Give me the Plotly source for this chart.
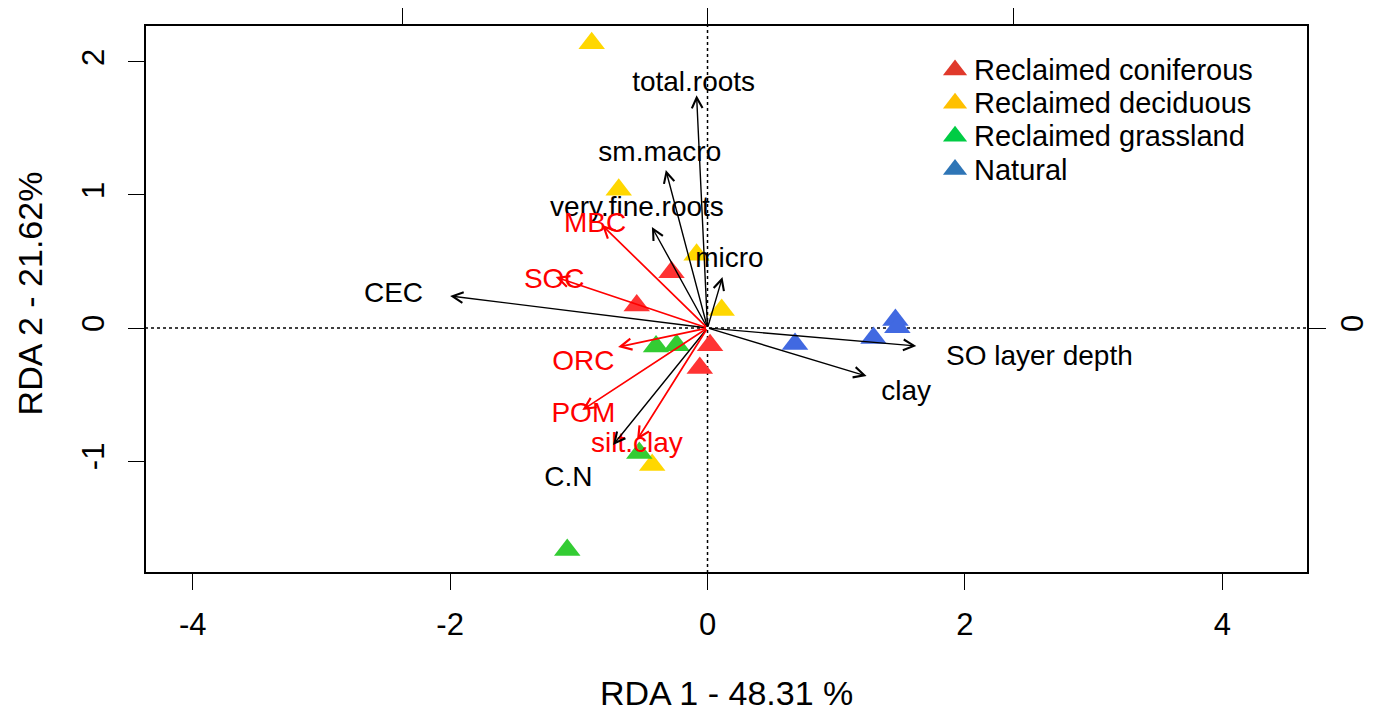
import plotly.graph_objects as go

# ---------------- data ----------------
groups = ["Reclaimed coniferous", "Reclaimed deciduous", "Reclaimed grassland", "Natural"]
point_colors = ["#FF3333", "#FFD700", "#33CC33", "#4169E1"]
legend_colors = ["#E0392B", "#FFC000", "#00CC44", "#2E75B6"]

conif_x = [-0.28, -0.55, 0.02, -0.06]
conif_y = [0.42, 0.17, -0.13, -0.30]
decid_x = [-0.90, -0.69, -0.085, 0.11, -0.43]
decid_y = [2.14, 1.04, 0.55, 0.135, -1.03]
grass_x = [-0.40, -0.24, -0.53, -1.09]
grass_y = [-0.14, -0.13, -0.94, -1.67]
nat_x = [0.68, 1.29, 1.46, 1.475]
nat_y = [-0.12, -0.075, 0.06, 0.005]

# black vectors (explanatory variables)
env_names = ["total.roots", "sm.macro", "very.fine.roots", "micro", "CEC",
             "SO layer depth", "clay", "C.N"]
env_x = [-0.085, -0.324, -0.432, 0.116, -2.0, 1.622, 1.236, -0.734]
env_y = [1.75, 1.188, 0.759, 0.383, 0.241, -0.135, -0.361, -0.88]
env_lab_x = [-0.108, -0.371, -0.548, 0.17, -2.44, 2.579, 1.544, -1.081]
env_lab_y = [1.837, 1.311, 0.897, 0.514, 0.251, -0.223, -0.486, -1.138]

# red vectors (fitted soil variables)
soil_names = ["MBC", "SOC", "ORC", "POM", "silt.clay"]
soil_x = [-0.82, -1.18, -0.695, -0.973, -0.548]
soil_y = [0.774, 0.383, -0.143, -0.617, -0.842]
soil_lab_x = [-0.873, -1.191, -0.965, -0.965, -0.548]
soil_lab_y = [0.777, 0.356, -0.261, -0.652, -0.877]

x_ticks = [-4, -2, 0, 2, 4]
y_ticks = [-1, 0, 1, 2]
top_ticks = [-1, 0, 1]
right_ticks = [0]

x_title = "RDA 1 - 48.31 %"
y_title = "RDA 2 - 21.62%"

# ---------------- figure ----------------
FONT = "Liberation Sans, Arial, Helvetica, sans-serif"
XR = [-4.371, 4.666]
YR = [-1.842, 2.278]
k_top = 128.7 / 305.5
k_right = 133.0 / 305.5

# manual legend layout (fractions of the plot area)
LEG_SYM_X = 0.6965
LEG_TXT_X = 0.711
LEG_Y0 = 0.918
LEG_STEP = 0.0606
leg_rows = [LEG_Y0 - i * LEG_STEP for i in range(len(groups))]

fig = go.Figure()

series = [(conif_x, conif_y), (decid_x, decid_y), (grass_x, grass_y), (nat_x, nat_y)]
for (xs, ys), col, name in zip(series, point_colors, groups):
    fig.add_trace(go.Scatter(x=xs, y=ys, mode="markers", name=name, showlegend=False,
                             marker=dict(symbol="triangle-up", size=23, color=col,
                                         line=dict(width=0)),
                             hoverinfo="skip", cliponaxis=False))

# labels
fig.add_trace(go.Scatter(x=env_lab_x, y=env_lab_y, text=env_names, mode="text",
                         textfont=dict(family=FONT, size=28, color="black"),
                         showlegend=False, hoverinfo="skip", cliponaxis=False))
fig.add_trace(go.Scatter(x=soil_lab_x, y=soil_lab_y, text=soil_names, mode="text",
                         textfont=dict(family=FONT, size=28, color="#FF0000"),
                         showlegend=False, hoverinfo="skip", cliponaxis=False))

# secondary axes (top / right scales)
fig.add_trace(go.Scatter(x=[0], y=[0], xaxis="x2", yaxis="y2", mode="markers",
                         marker=dict(opacity=0), showlegend=False, hoverinfo="skip"))

# legend symbols on an overlay axis spanning the plot area
fig.add_trace(go.Scatter(x=[LEG_SYM_X] * len(groups), y=leg_rows, xaxis="x3", yaxis="y3",
                         mode="markers", showlegend=False, hoverinfo="skip",
                         marker=dict(symbol="triangle-up", size=21, color=legend_colors,
                                     line=dict(width=0))))

annotations = []
for ex, ey in zip(env_x, env_y):
    annotations.append(dict(x=ex, y=ey, ax=0, ay=0, xref="x", yref="y", axref="x", ayref="y",
                            text="", showarrow=True, arrowhead=5, arrowsize=1.5,
                            arrowwidth=1.4, arrowcolor="black", standoff=0))
for sx, sy in zip(soil_x, soil_y):
    annotations.append(dict(x=sx, y=sy, ax=0, ay=0, xref="x", yref="y", axref="x", ayref="y",
                            text="", showarrow=True, arrowhead=5, arrowsize=1.3,
                            arrowwidth=1.7, arrowcolor="#FF0000", standoff=0))

for name, yy in zip(groups, leg_rows):
    annotations.append(dict(text=name, xref="paper", yref="paper", x=LEG_TXT_X, y=yy,
                            xanchor="left", yanchor="middle", showarrow=False,
                            font=dict(family=FONT, size=29, color="black")))

annotations.append(dict(text=x_title, xref="paper", yref="paper", x=0.5, y=-0.219,
                        xanchor="center", yanchor="middle", showarrow=False,
                        font=dict(family=FONT, size=34, color="black")))
annotations.append(dict(text=y_title, xref="paper", yref="paper", x=-0.099, y=0.51,
                        xanchor="center", yanchor="middle", showarrow=False, textangle=-90,
                        font=dict(family=FONT, size=34, color="black")))

shapes = [
    dict(type="line", xref="x", yref="paper", x0=0, x1=0, y0=0, y1=1,
         line=dict(color="black", width=1.5, dash="dot"), layer="below"),
    dict(type="line", xref="paper", yref="y", x0=0, x1=1, y0=0, y1=0,
         line=dict(color="black", width=1.5, dash="dot"), layer="below"),
    dict(type="rect", xref="paper", yref="paper", x0=0, x1=1, y0=0, y1=1,
         line=dict(color="black", width=2), layer="above"),
]

axis_common = dict(showgrid=False, zeroline=False, showline=False, ticks="outside",
                   ticklen=16, tickwidth=1.3, tickcolor="black", automargin=False,
                   tickfont=dict(family=FONT, size=31, color="black"))

fig.update_layout(
    width=1384, height=711,
    margin=dict(l=137, r=84, t=17, b=146, autoexpand=False),
    paper_bgcolor="white", plot_bgcolor="white",
    font=dict(family=FONT, color="black"),
    xaxis=dict(range=XR, tickvals=x_ticks, ticktext=[str(v) for v in x_ticks],
               ticklabelstandoff=8, **axis_common),
    yaxis=dict(range=YR, tickvals=y_ticks, ticktext=[str(v) for v in y_ticks], tickangle=-90,
               ticklabelstandoff=12, **axis_common),
    xaxis2=dict(range=[XR[0] * k_top, XR[1] * k_top], overlaying="x", side="top",
                tickvals=top_ticks, showticklabels=False, showgrid=False, zeroline=False,
                automargin=False, ticks="outside", ticklen=17, tickwidth=1.3,
                tickcolor="black"),
    yaxis2=dict(range=[YR[0] * k_right, YR[1] * k_right], overlaying="y", side="right",
                tickvals=right_ticks, ticktext=["0"], tickangle=-90, showgrid=False,
                zeroline=False, automargin=False, ticks="outside", ticklen=17, tickwidth=1.3,
                tickcolor="black", tickfont=dict(family=FONT, size=31, color="black")),
    xaxis3=dict(range=[0, 1], overlaying="x", visible=False, fixedrange=True,
                automargin=False),
    yaxis3=dict(range=[0, 1], overlaying="y", visible=False, fixedrange=True,
                automargin=False),
    annotations=annotations,
    shapes=shapes,
    showlegend=False,
)

fig.write_html("out.html")
